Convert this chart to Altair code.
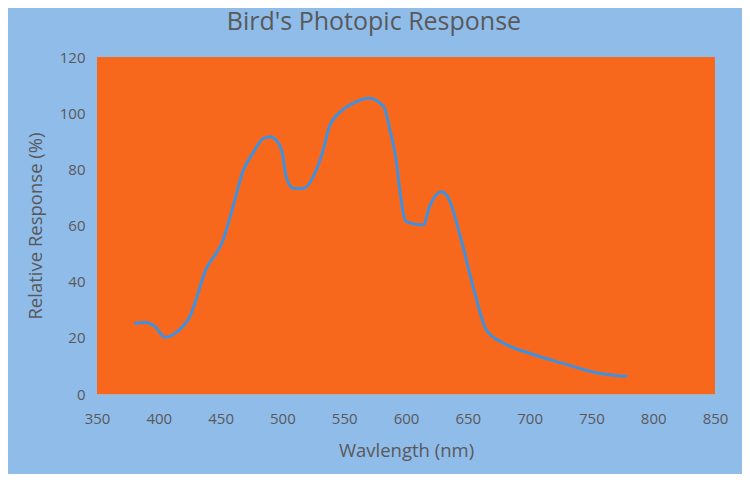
import altair as alt
import pandas as pd

wavelength = [380, 390, 397, 405, 415, 425, 438, 452, 460, 468, 476, 485, 490, 495,
              500, 503, 509, 517, 525, 533, 538, 547, 560, 570, 582, 587, 592, 595,
              600, 614, 619, 629, 635, 644, 655, 665, 679, 700, 727, 754, 779]
response = [25.2, 25.5, 24.0, 20.2, 22.2, 27.5, 44.2, 54.8, 66.7, 79.2, 85.7, 91.1, 91.6, 90.4,
            85.7, 77.4, 73.2, 73.2, 77.4, 86.9, 95.2, 100.5, 104.1, 105.3, 102.3, 94.0, 83.3, 72.6,
            61.4, 60.2, 66.7, 72.0, 69.1, 56.0, 37.0, 22.8, 18.1, 14.5, 10.9, 7.6, 6.2]

x_ticks = [350, 400, 450, 500, 550, 600, 650, 700, 750, 800, 850]
y_ticks = [0, 20, 40, 60, 80, 100, 120]

df = pd.DataFrame({"wavelength": wavelength, "response": response})

FONT = "Open Sans"
TXT = "#595959"

chart = alt.Chart(df).mark_line(
    interpolate="monotone", color="#4090DE", strokeWidth=3
).encode(
    x=alt.X("wavelength:Q",
            scale=alt.Scale(domain=[350, 850], nice=False, zero=False),
            axis=alt.Axis(values=x_ticks, title="Wavlength (nm)", grid=False,
                          ticks=False, tickSize=0, domain=True, domainColor="#B0B0B0",
                          labelFlush=False, labelOverlap=False,
                          labelPadding=17, titlePadding=15, labelFontSize=15,
                          titleFontSize=18.5, labelFont=FONT, titleFont=FONT,
                          labelColor=TXT, titleColor=TXT, titleFontWeight="normal")),
    y=alt.Y("response:Q",
            scale=alt.Scale(domain=[0, 120], nice=False),
            axis=alt.Axis(values=y_ticks, title="Relative Response (%)", grid=False,
                          ticks=False, tickSize=0, domain=False,
                          labelFlush=False, labelOverlap=False,
                          labelPadding=12, titlePadding=14, labelFontSize=15,
                          titleFontSize=18.5, labelFont=FONT, titleFont=FONT,
                          labelColor=TXT, titleColor=TXT, titleFontWeight="normal")),
).properties(
    width=618,
    height=337,
    background="#90BCEA",
    padding={"left": 89, "top": 49, "right": 27, "bottom": 80},
    autosize=alt.AutoSizeParams(type="none"),
    title=alt.TitleParams("Bird's Photopic Response", anchor="middle", dx=-32,
                          offset=15, fontSize=25, font=FONT, color=TXT,
                          fontWeight="normal"),
).configure_view(
    fill="#F7681C", stroke=None
)

chart.save("out.html", embed_options={"renderer": "svg", "actions": False})
